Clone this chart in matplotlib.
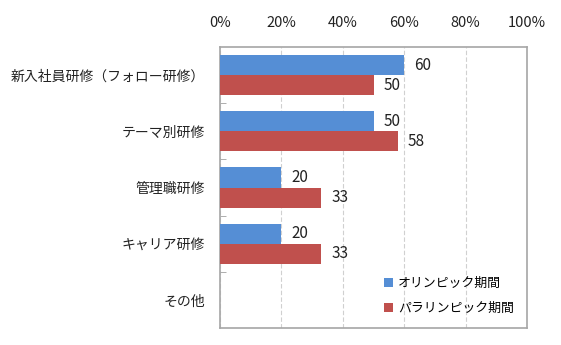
import numpy as np
import matplotlib
matplotlib.use("Agg")
import matplotlib.pyplot as plt
from matplotlib.ticker import FuncFormatter

plt.rcParams['font.family'] = ['Noto Sans CJK JP', 'DejaVu Sans']

categories = ["新入社員研修（フォロー研修）", "テーマ別研修", "管理職研修", "キャリア研修", "その他"]
olympic = [60, 50, 20, 20, None]
paralympic = [50, 58, 33, 33, None]
series_names = ["オリンピック期間", "パラリンピック期間"]
colors = ["#558ED5", "#C0504D"]

fig = plt.figure(figsize=(5.61, 3.45), dpi=100)
ax = fig.add_axes([220 / 561, 1 - 328 / 345, 307 / 561, 281 / 345])

y = np.arange(len(categories))
h = 0.356
for i, (vals, name, col) in enumerate(zip([olympic, paralympic], series_names, colors)):
    pos = y - h / 2 + i * h
    v = [0 if x is None else x for x in vals]
    ax.barh(pos, v, height=h, color=col, label=name, zorder=3)
    for p, x in zip(pos, vals):
        if x is not None:
            ax.text(x + 3.2, p, str(x), va="center", ha="left", fontsize=11, color="#222222")

ax.set_xlim(0, 100)
ax.set_ylim(len(categories) - 0.5, -0.5)
ax.set_xticks(np.arange(0, 101, 20))
ax.xaxis.set_major_formatter(FuncFormatter(lambda v, _: f"{int(v)}%"))
ax.xaxis.tick_top()
ax.tick_params(axis="x", length=0, labelsize=10.5, pad=12, colors="#222222")
ax.grid(axis="x", color="#d0d0d0", linestyle=(0, (4, 2)), linewidth=0.8, zorder=0)

# category labels in the middle of each band, boundary ticks in between
ax.set_yticks(y)
ax.set_yticklabels(categories, fontsize=10)
ax.tick_params(axis="y", which="major", length=0, pad=11, colors="#222222")
ax.set_yticks(np.arange(len(categories) - 1) + 0.5, minor=True)
ax.tick_params(axis="y", which="minor", length=4, direction="in", color="#a0a0a0")

for s in ax.spines.values():
    s.set_color("#a6a6a6")
    s.set_linewidth(1.2)

leg = ax.legend(loc="lower right", bbox_to_anchor=(0.995, 0.005), frameon=False,
                fontsize=9.3, handlelength=0.7, handleheight=0.7, handletextpad=0.4,
                labelspacing=0.95)

fig.savefig("out.png", dpi=100)
